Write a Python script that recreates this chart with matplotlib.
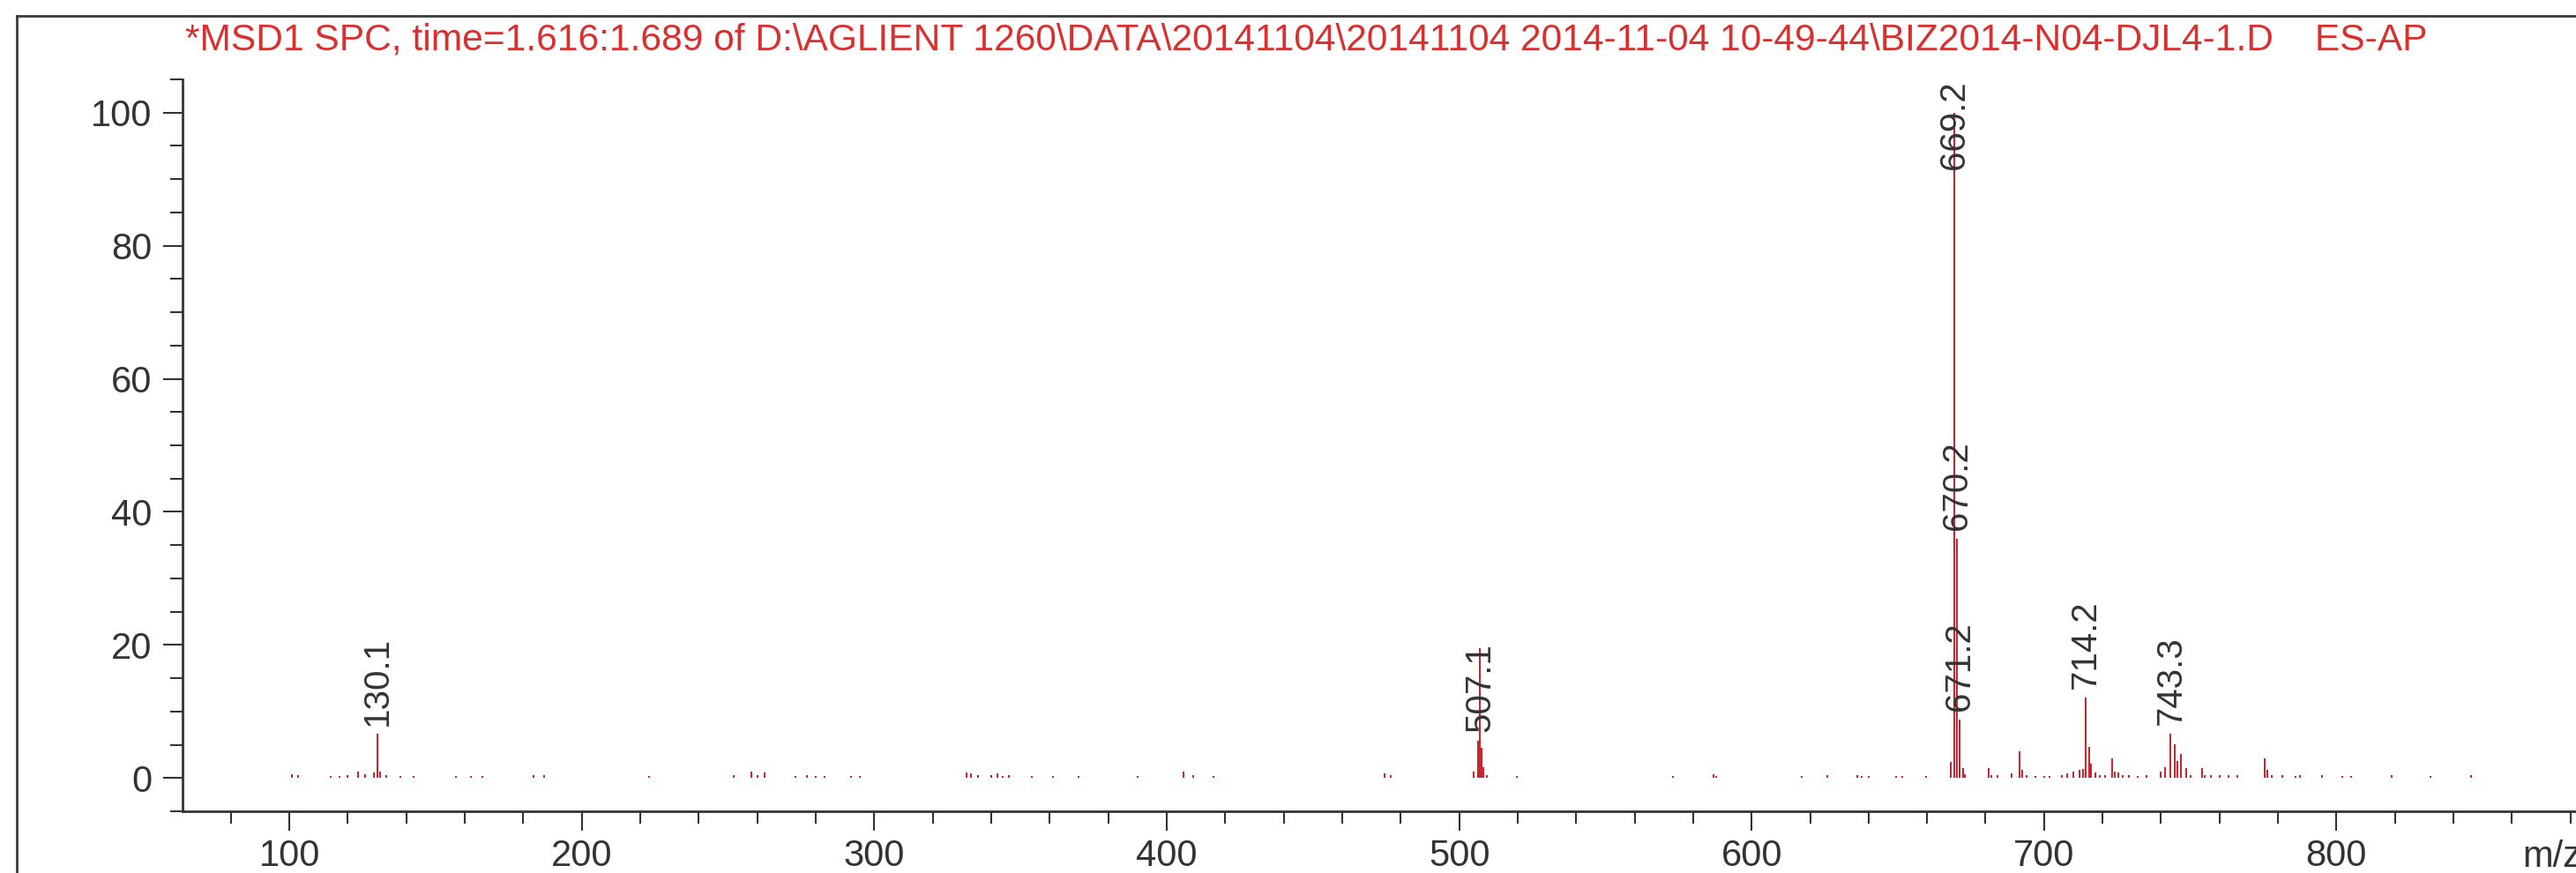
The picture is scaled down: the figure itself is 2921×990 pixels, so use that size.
import matplotlib
matplotlib.use("Agg")
import matplotlib.pyplot as plt
from matplotlib.lines import Line2D
from matplotlib.ticker import MultipleLocator

plt.rcParams['font.family'] = ['Liberation Sans', 'DejaVu Sans']

title = r"*MSD1 SPC, time=1.616:1.689 of D:\AGLIENT 1260\DATA\20141104\20141104 2014-11-04 10-49-44\BIZ2014-N04-DJL4-1.D    ES-AP"

# labelled peaks (m/z, relative abundance)
peak_mz = [130.1, 507.1, 669.2, 670.2, 671.2, 714.2, 743.3]
peak_int = [6.6, 19.5, 100.0, 36.0, 8.8, 12.1, 6.7]
peak_text = ["130.1", "507.1", "669.2", "670.2", "671.2", "714.2", "743.3"]

# small unlabelled peaks
minor_mz = [101, 103, 114, 117, 120, 123.5, 126, 129, 131.1, 133, 138, 142.5,
            157, 162, 166, 183.5, 187, 223, 252, 258, 260, 262.5, 273, 277,
            280, 283, 292, 295, 331.5, 333, 335.5, 340, 342, 344, 346, 354,
            361, 370, 390, 405.8, 409, 416, 474.5, 476.5, 505, 506.6, 507.6,
            508.4, 509.5, 519.8, 573, 587, 588, 617, 626, 636, 637.5, 640,
            649.5, 651.5, 659.5, 668.2, 672.2, 673, 681.2, 682, 684, 689,
            691.6, 692.4, 694, 697, 700, 702, 706, 708, 710, 712, 713.2,
            715.4, 716.1, 717.5, 719, 721, 723.4, 724.3, 725.5, 727, 729, 732,
            735, 740, 741.5, 744.8, 745.6, 746.9, 748.5, 750, 754, 755, 757,
            760, 763, 766, 775.5, 776.3, 778, 781.6, 786, 787.5, 795, 802,
            805, 819, 832, 846]
minor_int = [0.6, 0.4, 0.3, 0.3, 0.4, 1.0, 0.6, 0.8, 0.9, 0.4, 0.3, 0.3,
             0.3, 0.3, 0.3, 0.4, 0.4, 0.3, 0.4, 1.0, 0.5, 0.8, 0.3, 0.4,
             0.3, 0.3, 0.3, 0.3, 0.8, 0.7, 0.5, 0.4, 0.7, 0.3, 0.4, 0.3,
             0.3, 0.3, 0.3, 1.0, 0.4, 0.3, 0.7, 0.4, 1.0, 5.6, 4.5,
             1.6, 0.4, 0.3, 0.3, 0.6, 0.3, 0.3, 0.4, 0.4, 0.3, 0.3,
             0.3, 0.3, 0.3, 2.4, 1.5, 0.6, 1.5, 0.5, 0.4, 0.7,
             4.0, 1.2, 0.4, 0.3, 0.3, 0.3, 0.5, 0.7, 1.0, 1.2, 1.4,
             4.7, 2.2, 0.8, 0.5, 0.4, 3.0, 1.0, 0.8, 0.5, 0.4, 0.3,
             0.4, 1.0, 1.6, 5.1, 2.5, 3.6, 1.5, 0.5, 1.5, 0.5, 0.4,
             0.4, 0.4, 0.4, 3.0, 1.2, 0.4, 0.4, 0.3, 0.4, 0.4, 0.3,
             0.3, 0.4, 0.3, 0.4]

red = "#cc1f2b"
grey = "#333333"

fig = plt.figure(figsize=(29.21, 9.9), dpi=100)
ax = fig.add_axes([0.0709, 0.0707, 0.9383, 0.8384])

ax.vlines(minor_mz, 0, minor_int, color=red, lw=1.4)
ax.vlines(peak_mz, 0, peak_int, color=red, lw=1.4)

ax.set_xlim(63.5, 890)
ax.set_ylim(-5, 105)

# peak labels sit above the stick; the base peak label is pulled inside the frame
for mz, h, txt in zip(peak_mz, peak_int, peak_text):
    if txt == "669.2":
        ax.text(mz, 104.8, txt, rotation=90, ha="center", va="top",
                fontsize=29, color=grey, zorder=5)
        continue
    base = 5.7 if txt == "507.1" else h
    ax.annotate(txt, (mz, base), xytext=(0, 7), textcoords="offset points",
                rotation=90, ha="center", va="bottom", fontsize=29,
                color=grey, zorder=5)

for side in ["top", "right"]:
    ax.spines[side].set_visible(False)
for side in ["left", "bottom"]:
    ax.spines[side].set_linewidth(2.0)
    ax.spines[side].set_color(grey)

ax.xaxis.set_major_locator(MultipleLocator(100))
ax.xaxis.set_minor_locator(MultipleLocator(20))
ax.yaxis.set_major_locator(MultipleLocator(20))
ax.yaxis.set_minor_locator(MultipleLocator(5))
ax.tick_params(which="major", direction="out", length=16, width=1.5,
               color=grey, labelsize=30, labelcolor=grey)
ax.tick_params(which="minor", direction="out", length=10, width=1.5, color=grey)
ax.tick_params(axis="x", which="major", pad=6)
ax.tick_params(axis="y", which="major", pad=9)

fig.text(2860 / 2921, 1 - 983 / 990, "m/z", fontsize=30, color=grey,
         ha="left", va="baseline")

fig.text(210 / 2921, 1 - 57 / 990, title, fontsize=30.6, color="#d8302f",
         ha="left", va="baseline")

# outer frame of the report panel
fig.add_artist(Line2D([19 / 2921, 1.0], [1 - 18 / 990, 1 - 18 / 990],
                      transform=fig.transFigure, color="#3a3a3a", lw=2))
fig.add_artist(Line2D([19 / 2921, 19 / 2921], [0, 1 - 18 / 990],
                      transform=fig.transFigure, color="#3a3a3a", lw=2))

fig.savefig("out.png", dpi=100)
